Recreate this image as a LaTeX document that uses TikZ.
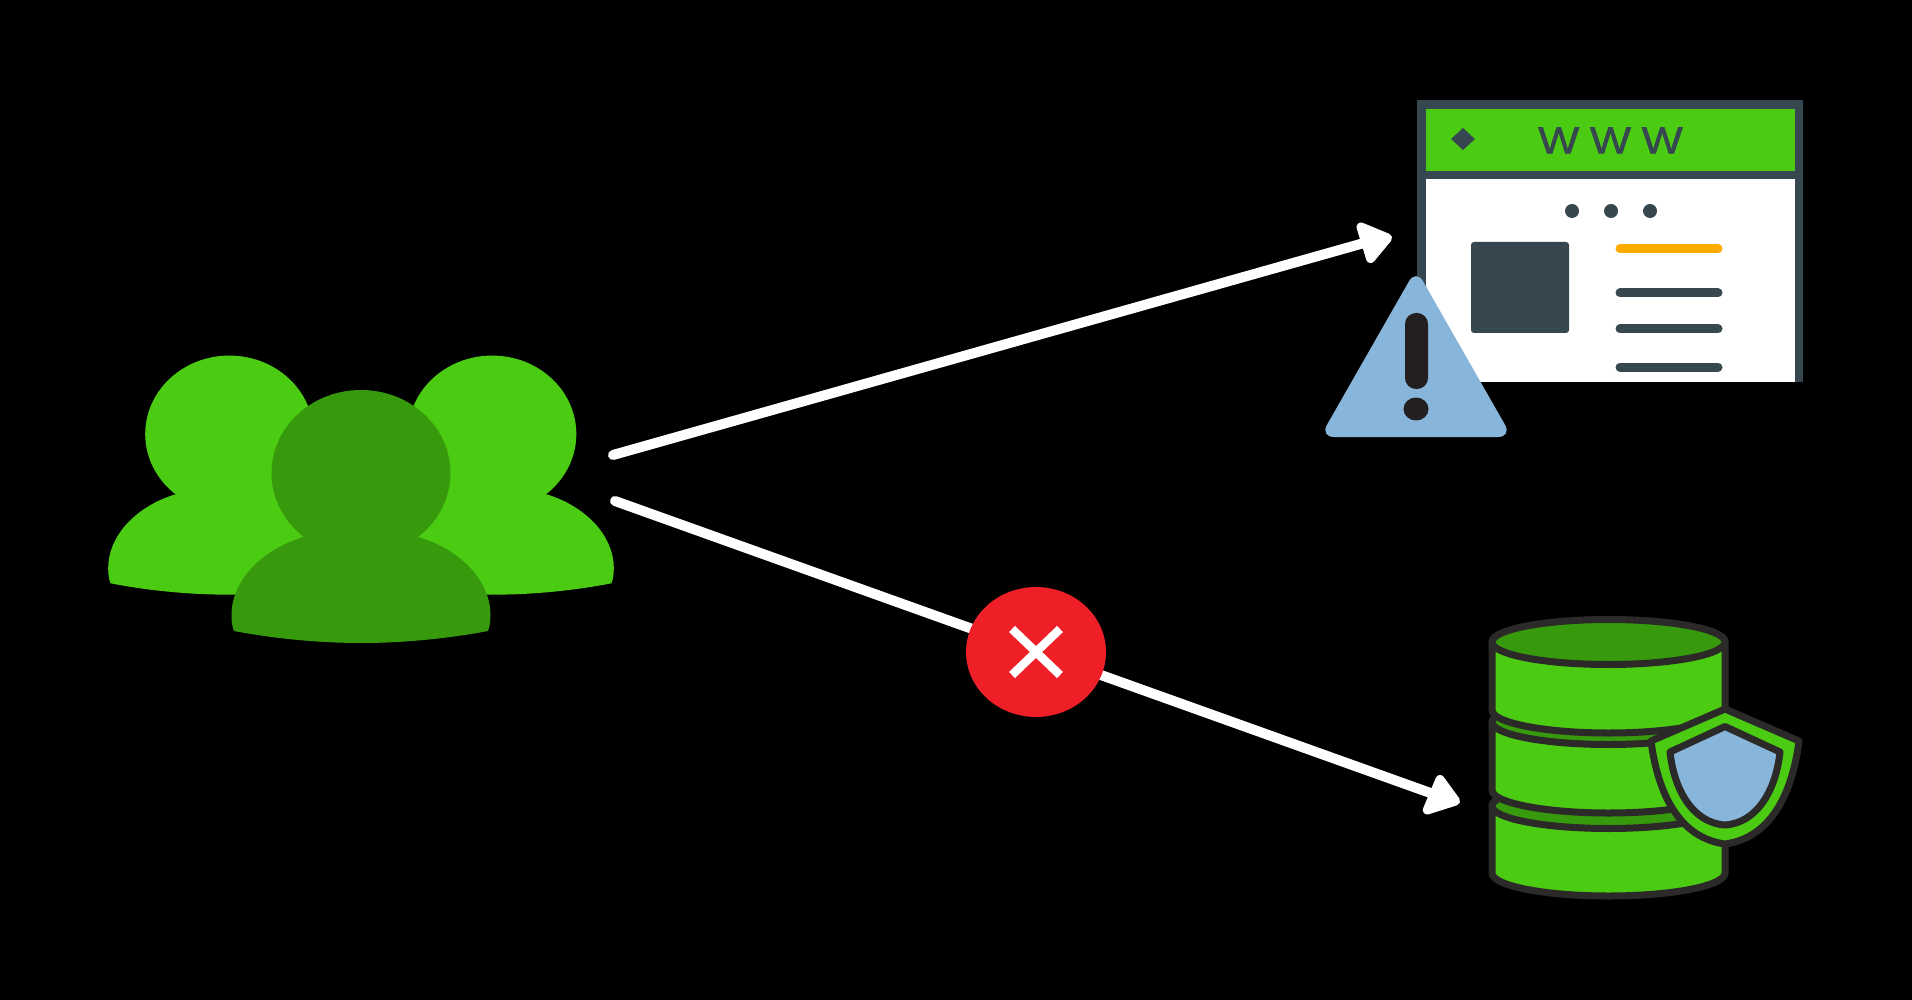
\documentclass[tikz,border=0pt]{standalone}
\usepackage{fontspec}
\setmainfont{Liberation Sans}
\definecolor{brightgreen}{HTML}{4BCC13}
\definecolor{darkgreen}{HTML}{379A0C}
\definecolor{slate}{HTML}{37474F}
\definecolor{skyblue}{HTML}{88B5DA}
\definecolor{inkdark}{HTML}{2B2A29}
\definecolor{marknear}{HTML}{231F20}
\definecolor{alertred}{HTML}{EE1F27}
\definecolor{amber}{HTML}{FFAB00}
\tikzset{
  dbline/.style={draw=inkdark,line width=7pt,line join=round},
  flow/.style={draw=white,line width=10pt,line cap=round},
  flowhead/.style={draw=white,fill=white,line width=9pt,line join=round},
  barline/.style={line width=9pt,line cap=round},
}
\newcommand{\personshape}[6]{%
  \begin{scope}[shift={(#1,#2)},xscale=#3,yscale=#4]
    \fill[#5] (#6,0) ellipse [x radius=#3*0+91,y radius=83];
    \fill[#5] (-57.5,64) .. controls (-100,77) and (-129.5,108) .. (-129.5,142)
      .. controls (-129.5,148) and (-129,153) .. (-127,158)
      .. controls (-85,166) and (-40,170) .. (0,170)
      .. controls (40,170) and (85,166) .. (127,158)
      .. controls (129,153) and (129.5,148) .. (129.5,142)
      .. controls (129.5,108) and (100,77) .. (57.5,64) -- cycle;
  \end{scope}}
\newcommand{\dbslice}[2]{%
  \path[fill=brightgreen,dbline] (1492,#1) -- (1492,#2)
    arc [start angle=180,end angle=0,x radius=116.5,y radius=23]
    -- (1725,#1) arc [start angle=0,end angle=-180,x radius=116.5,y radius=22] -- cycle;
  \path[fill=darkgreen,dbline] (1608.5,#1) ellipse [x radius=116.5,y radius=22.5];}
\begin{document}
\begin{tikzpicture}[x=1pt,y=-1pt]
\useasboundingbox (0,0) rectangle (1912,1000);
\fill[black] (0,0) rectangle (1912,1000);

% users
\personshape{228}{434}{0.925}{0.945}{brightgreen}{1.5}
\personshape{494}{434}{0.925}{0.945}{brightgreen}{-2}
\begin{scope}[shift={(361,473)}]
  \fill[darkgreen] (0,0) ellipse [x radius=89.5,y radius=83];
  \fill[darkgreen] (-57.5,64) .. controls (-100,77) and (-129.5,108) .. (-129.5,142)
      .. controls (-129.5,148) and (-129,153) .. (-127,158)
      .. controls (-85,166) and (-40,170) .. (0,170)
      .. controls (40,170) and (85,166) .. (127,158)
      .. controls (129,153) and (129.5,148) .. (129.5,142)
      .. controls (129.5,108) and (100,77) .. (57.5,64) -- cycle;
\end{scope}

% browser window
\fill[slate] (1417,100) rectangle (1803,382);
\fill[brightgreen] (1426,109) rectangle (1795,171);
\fill[white] (1426,179) rectangle (1795,382);
\fill[slate] (1451,139) -- (1463,128) -- (1475,139) -- (1463,150) -- cycle;
\node[text=slate,inner sep=0pt,xscale=1.15,transform shape] (www) at (1610.5,140.5)
  {\addfontfeature{LetterSpace=25,FakeBold=1.5}\fontsize{37.7pt}{37.7pt}\selectfont WWW};
\foreach \dotx in {1572,1611,1650}
  \fill[slate] (\dotx,211) circle [radius=7];
\fill[slate,rounded corners=3pt] (1471,242) rectangle (1569,333);
\draw[amber,barline] (1620,249) -- (1718,249);
\foreach \liney in {293,329,367}
  \draw[slate,barline] (1620,\liney) -- (1718,\liney);

% warning triangle
\path[fill=skyblue,rounded corners=14pt] (1416,269) -- (1512,437) -- (1320,437) -- cycle;
\fill[marknear,rounded corners=11pt] (1405,313) rectangle (1428,389);
\fill[marknear] (1416,409) ellipse [x radius=12.5,y radius=11.5];

% database
\dbslice{806}{873}
\dbslice{722}{790}
\dbslice{642}{710}

% shield
\path[fill=brightgreen,dbline] (1725,709) -- (1799,741)
  .. controls (1792,795) and (1770,838) .. (1725,844)
  .. controls (1680,838) and (1658,795) .. (1651,741) -- cycle;
\path[fill=skyblue,dbline,miter limit=10] (1725,726.5) -- (1780,752)
  .. controls (1776,790) and (1757,823) .. (1725,825)
  .. controls (1693,823) and (1674,790) .. (1670,752) -- cycle;

% connectors
\coordinate (upstart) at (613,455);
\coordinate (upend) at (1364,243);
\coordinate (downstart) at (615,501);
\coordinate (downend) at (1436,795);
\draw[flow] (upstart) -- (upend);
\draw[flow] (downstart) -- (downend);
\path[flowhead] (1361,227) -- (1387.6,238) -- (1370.6,258.5) -- cycle;
\path[flowhead] (1440,779.5) -- (1455.6,801) -- (1427.3,810) -- cycle;

% blocked marker
\coordinate (block) at (1036,652);
\fill[alertred] (block) ellipse [x radius=70,y radius=65];
\draw[white,line width=8.5pt] (1012,629) -- (1060,675);
\draw[white,line width=8.5pt] (1060,629) -- (1012,675);
\end{tikzpicture}
\end{document}
